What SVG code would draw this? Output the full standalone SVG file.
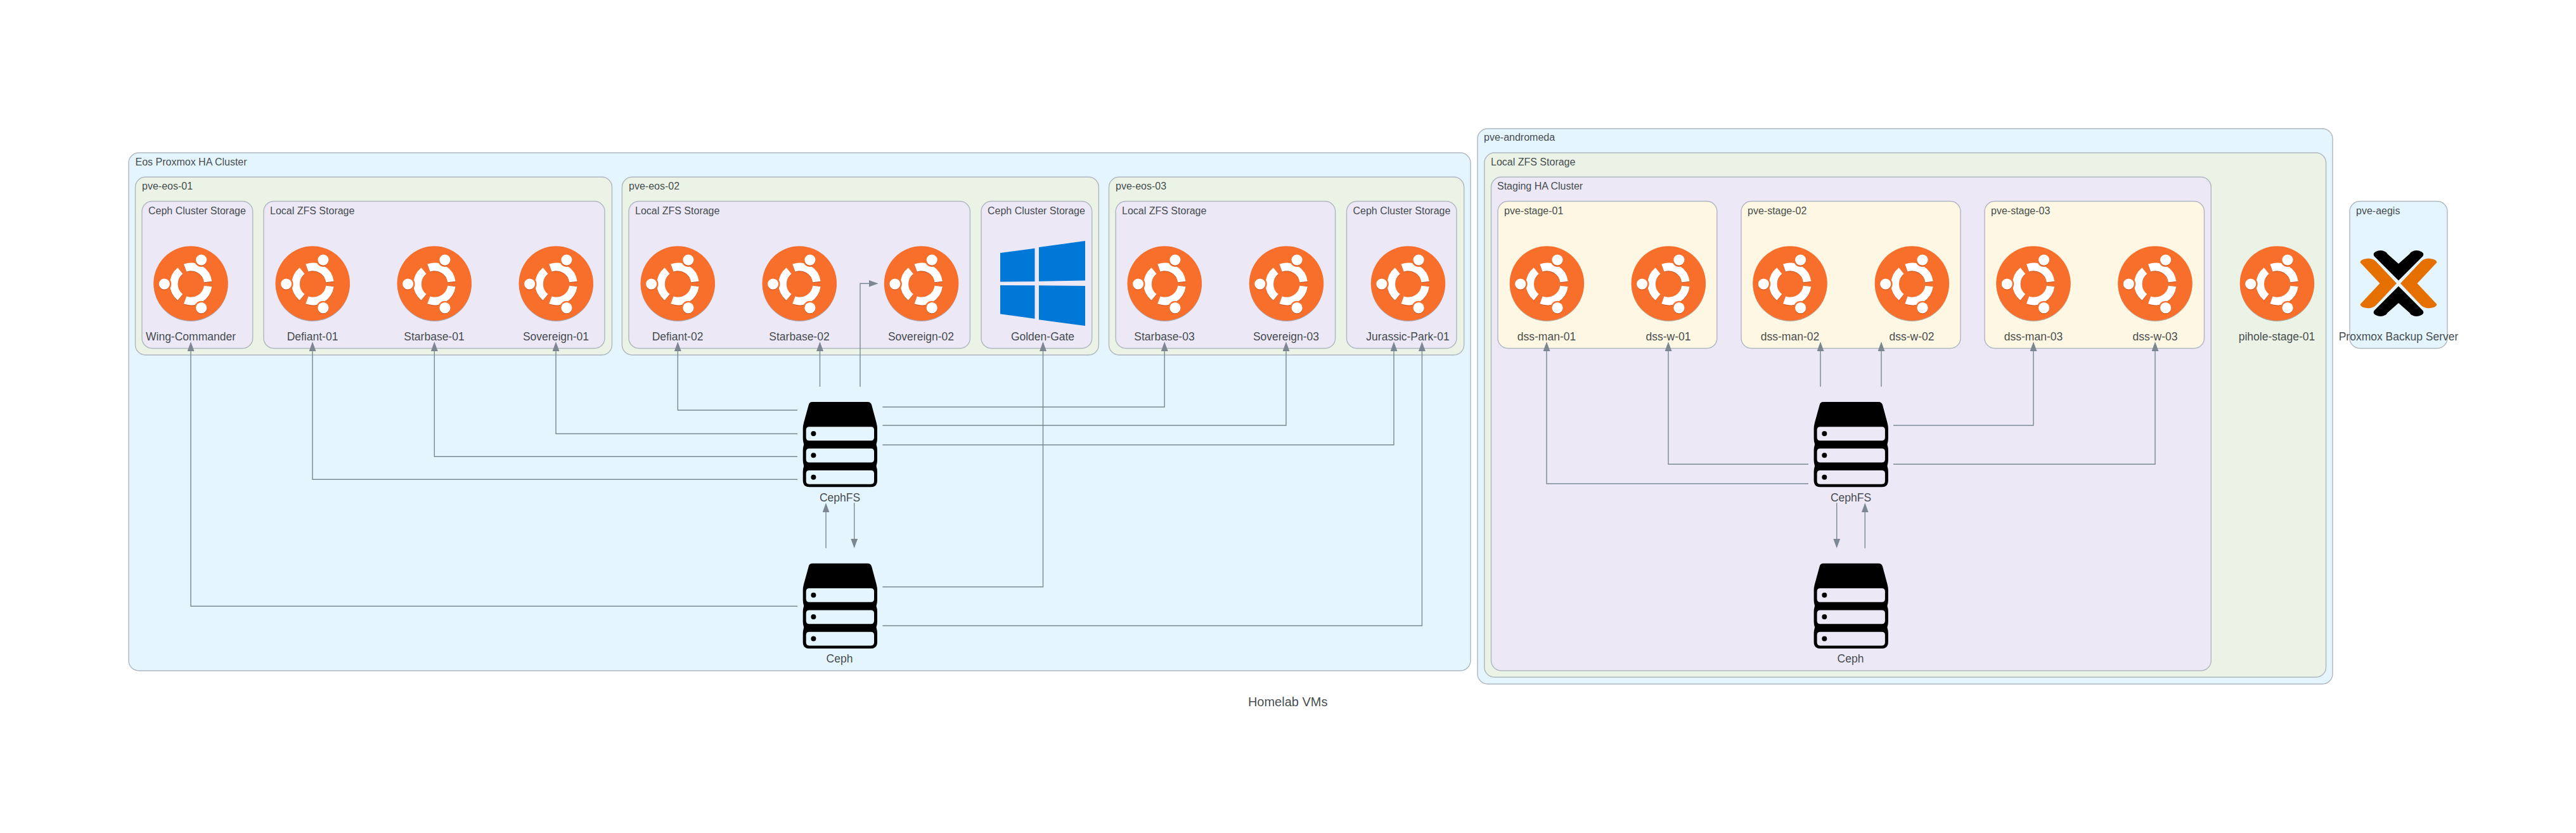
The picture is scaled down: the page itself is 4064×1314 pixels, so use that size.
<svg xmlns="http://www.w3.org/2000/svg" xmlns:xlink="http://www.w3.org/1999/xlink" width="4064" height="1314" viewBox="0 0 4064 1314">
<style>
text{font-family:"Liberation Sans",Arial,Helvetica,sans-serif;fill:#2D3436;fill-opacity:.9}
.cl{font-size:16px}
.nl{font-size:17.5px;text-anchor:middle}
.title{font-size:20px;text-anchor:middle}
.box{stroke:#AEB6BE;stroke-width:1.4}
.b{fill:#E5F5FD}.g{fill:#EBF3E7}.p{fill:#ECE8F6}.y{fill:#FDF7E3}
.edge{fill:none;stroke:#7B8894;stroke-width:1.4}
.edge.arrow{marker-end:url(#arrow)}
</style>
<defs>
<marker id="arrow" markerUnits="userSpaceOnUse" markerWidth="15" markerHeight="11" viewBox="0 0 15 11" refX="13" refY="5.5" orient="auto"><path d="M0 0L15 5.5L0 11Z" fill="#7B8894"/></marker>
<g id="ubuntu">
<circle cx="0" cy="1.5" r="58.5" fill="#000" fill-opacity=".28"/>
<circle r="58.7" fill="#F76F2B"/>
<g transform="translate(0.3,1)">
<g fill="none" stroke="#C9521C" stroke-width="12.500" transform="translate(0,1)"><path d="M26.77 -3.52A27 27 0 0 0 -9.23 -25.37M-16.99 -20.98A27 27 0 0 0 -16.99 20.98M-9.23 25.37A27 27 0 0 0 26.77 3.52"/></g>
<path fill="none" stroke="#FFF" stroke-width="12.500" d="M26.77 -3.52A27 27 0 0 0 -9.23 -25.37M-16.99 -20.98A27 27 0 0 0 -16.99 20.98M-9.23 25.37A27 27 0 0 0 26.77 3.52"/>
<g fill="#F76F2B"><circle cx="-42" r="11"/><circle cx="16.3" cy="-38" r="11"/><circle cx="16.3" cy="37.7" r="11"/></g>
<g fill="#C9521C"><circle cx="-42" cy="1" r="8.6"/><circle cx="16.3" cy="-37" r="8.6"/><circle cx="16.3" cy="38.7" r="8.6"/></g>
<g fill="#FFF"><circle cx="-42" r="8.6"/><circle cx="16.3" cy="-38" r="8.6"/><circle cx="16.3" cy="37.7" r="8.6"/></g>
</g>
</g>
<g id="server">
<path fill="#000" fill-rule="evenodd" d="M15 0H102Q107 0 108.5 5L116 33Q117.3 38 117.3 42V58Q117.3 62 115.8 67Q117.3 72 117.3 76V92Q117.3 96 115.8 101Q117.3 106 117.3 110V124Q117.3 134.3 107 134.3H10.3Q0 134.3 0 124V110Q0 106 1.5 101Q0 96 0 92V76Q0 72 1.5 67Q0 62 0 58V42Q0 38 1.3 33L9 5Q10 0 15 0ZM10 39.3Q5 39.3 5 44.3V56Q5 61 10 61H107.3Q112.3 61 112.3 56V44.3Q112.3 39.3 107.3 39.3ZM10 73.6Q5 73.6 5 78.6V90.4Q5 95.4 10 95.4H107.3Q112.3 95.4 112.3 90.4V78.6Q112.3 73.6 107.3 73.6ZM10 107.9Q5 107.9 5 112.9V124.7Q5 129.7 10 129.7H107.3Q112.3 129.7 112.3 124.7V112.9Q112.3 107.9 107.3 107.9Z"/>
<circle cx="16.7" cy="50" r="4"/><circle cx="16.7" cy="84.3" r="4"/><circle cx="16.7" cy="118.7" r="4"/>
</g>
</defs>
<rect width="4064" height="1314" fill="#FFF"/>

<g id="clusters">
<g id="cluster-eos">
<rect class="box b" x="203" y="241" width="2117" height="817" rx="16"/>
<text class="cl" x="213.5" y="260.7">Eos Proxmox HA Cluster</text>
<rect class="box g" x="213.5" y="279.3" width="752" height="280.7" rx="16"/>
<text class="cl" x="224" y="299.3">pve-eos-01</text>
<rect class="box p" x="224" y="317.5" width="174.7" height="232" rx="16"/>
<text class="cl" x="234" y="338.3">Ceph Cluster Storage</text>
<rect class="box p" x="416" y="317.5" width="538" height="232" rx="16"/>
<text class="cl" x="426" y="338.3">Local ZFS Storage</text>
<rect class="box g" x="981.4" y="279.3" width="752" height="280.7" rx="16"/>
<text class="cl" x="992" y="299.3">pve-eos-02</text>
<rect class="box p" x="992" y="317.5" width="538.4" height="232" rx="16"/>
<text class="cl" x="1002" y="338.3">Local ZFS Storage</text>
<rect class="box p" x="1548" y="317.5" width="174.7" height="232" rx="16"/>
<text class="cl" x="1558" y="338.3">Ceph Cluster Storage</text>
<rect class="box g" x="1749.5" y="279.3" width="560.2" height="280.7" rx="16"/>
<text class="cl" x="1760" y="299.3">pve-eos-03</text>
<rect class="box p" x="1760.2" y="317.5" width="346.4" height="232" rx="16"/>
<text class="cl" x="1770" y="338.3">Local ZFS Storage</text>
<rect class="box p" x="2124.5" y="317.5" width="173.5" height="232" rx="16"/>
<text class="cl" x="2134.5" y="338.3">Ceph Cluster Storage</text>
</g>
<g id="cluster-andromeda">
<rect class="box b" x="2331" y="203" width="1349" height="876" rx="16"/>
<text class="cl" x="2341" y="222">pve-andromeda</text>
<rect class="box g" x="2341.8" y="241" width="1327.8" height="827.3" rx="16"/>
<text class="cl" x="2352" y="260.7">Local ZFS Storage</text>
<rect class="box p" x="2352.5" y="279.3" width="1135.8" height="778.7" rx="16"/>
<text class="cl" x="2362" y="299.3">Staging HA Cluster</text>
<rect class="box y" x="2363" y="317.5" width="345.8" height="232" rx="16"/>
<text class="cl" x="2373" y="338.3">pve-stage-01</text>
<rect class="box y" x="2747" y="317.5" width="346" height="232" rx="16"/>
<text class="cl" x="2757" y="338.3">pve-stage-02</text>
<rect class="box y" x="3131" y="317.5" width="346.5" height="232" rx="16"/>
<text class="cl" x="3141" y="338.3">pve-stage-03</text>
</g>
<g id="cluster-aegis">
<rect class="box b" x="3707" y="317.5" width="154" height="232" rx="16"/>
<text class="cl" x="3717" y="338.3">pve-aegis</text>
</g>
</g>

<g id="connectors">
<path class="edge arrow" d="M1258 956.3H301V541"/>
<path class="edge arrow" d="M1258 756.3H493V541"/>
<path class="edge arrow" d="M1258 720.3H685.3V541"/>
<path class="edge arrow" d="M1258 684.3H877V541"/>
<path class="edge arrow" d="M1258 647H1069.3V541"/>
<path class="edge arrow" d="M1293.5 610V541"/>
<path class="edge arrow" d="M1357 610V447.3H1383.5"/>
<path class="edge arrow" d="M1392.3 925.7H1645.5V541"/>
<path class="edge arrow" d="M1392.3 642H1837.2V541"/>
<path class="edge arrow" d="M1392.3 671H2029V541"/>
<path class="edge arrow" d="M1392.3 701.7H2199V541"/>
<path class="edge arrow" d="M1392.3 987H2243.4V541"/>
<path class="edge arrow" d="M1303 864.7V795.3"/>
<path class="edge arrow" d="M1347.7 793.3V862.7"/>
<path class="edge arrow" d="M2853 763H2440V541"/>
<path class="edge arrow" d="M2853 732.3H2632V541"/>
<path class="edge arrow" d="M2872 610V541"/>
<path class="edge arrow" d="M2968 610V541"/>
<path class="edge arrow" d="M2987 671H3208V541"/>
<path class="edge arrow" d="M2987 732.3H3400V541"/>
<path class="edge arrow" d="M2897.7 793.3V862.7"/>
<path class="edge arrow" d="M2942.3 864.7V795.3"/>
</g>

<g id="node-wing-commander"><use href="#ubuntu" transform="translate(301,447)"/><text class="nl" x="301" y="536.5">Wing-Commander</text></g>
<g id="node-defiant-01"><use href="#ubuntu" transform="translate(493.3,447)"/><text class="nl" x="493" y="536.5">Defiant-01</text></g>
<g id="node-starbase-01"><use href="#ubuntu" transform="translate(685.3,447)"/><text class="nl" x="685" y="536.5">Starbase-01</text></g>
<g id="node-sovereign-01"><use href="#ubuntu" transform="translate(877.3,447)"/><text class="nl" x="877" y="536.5">Sovereign-01</text></g>
<g id="node-defiant-02"><use href="#ubuntu" transform="translate(1069.3,447)"/><text class="nl" x="1069" y="536.5">Defiant-02</text></g>
<g id="node-starbase-02"><use href="#ubuntu" transform="translate(1261.3,447)"/><text class="nl" x="1261" y="536.5">Starbase-02</text></g>
<g id="node-sovereign-02"><use href="#ubuntu" transform="translate(1453.6,447)"/><text class="nl" x="1453" y="536.5">Sovereign-02</text></g>
<g id="node-golden-gate">
<g fill="#0078D7"><path d="M1578 399L1632.5 391.7V444L1578 444.5Z"/><path d="M1639 390L1712 380V442.5L1639 443.7Z"/><path d="M1578 450L1632.5 450.3V502.7L1578 495.3Z"/><path d="M1639 450.3L1712 451V514L1639 504.3Z"/></g>
<text class="nl" x="1645" y="536.5">Golden-Gate</text></g>
<g id="node-starbase-03"><use href="#ubuntu" transform="translate(1837.3,447)"/><text class="nl" x="1837" y="536.5">Starbase-03</text></g>
<g id="node-sovereign-03"><use href="#ubuntu" transform="translate(2029.5,447)"/><text class="nl" x="2029" y="536.5">Sovereign-03</text></g>
<g id="node-jurassic-park-01"><use href="#ubuntu" transform="translate(2221.5,447)"/><text class="nl" x="2221" y="536.5">Jurassic-Park-01</text></g>
<g id="node-cephfs-eos"><use href="#server" transform="translate(1266.7,634)"/><text class="nl" x="1325" y="791">CephFS</text></g>
<g id="node-ceph-eos"><use href="#server" transform="translate(1266.7,888.8)"/><text class="nl" x="1324.5" y="1045">Ceph</text></g>
<g id="node-dss-man-01"><use href="#ubuntu" transform="translate(2440.4,447)"/><text class="nl" x="2440" y="536.5">dss-man-01</text></g>
<g id="node-dss-w-01"><use href="#ubuntu" transform="translate(2632.3,447)"/><text class="nl" x="2632" y="536.5">dss-w-01</text></g>
<g id="node-dss-man-02"><use href="#ubuntu" transform="translate(2824,447)"/><text class="nl" x="2824" y="536.5">dss-man-02</text></g>
<g id="node-dss-w-02"><use href="#ubuntu" transform="translate(3016.4,447)"/><text class="nl" x="3016" y="536.5">dss-w-02</text></g>
<g id="node-dss-man-03"><use href="#ubuntu" transform="translate(3208,447)"/><text class="nl" x="3208" y="536.5">dss-man-03</text></g>
<g id="node-dss-w-03"><use href="#ubuntu" transform="translate(3400,447)"/><text class="nl" x="3400" y="536.5">dss-w-03</text></g>
<g id="node-cephfs-stage"><use href="#server" transform="translate(2861.6,634)"/><text class="nl" x="2920" y="791">CephFS</text></g>
<g id="node-ceph-stage"><use href="#server" transform="translate(2861.6,888.8)"/><text class="nl" x="2919.5" y="1045">Ceph</text></g>
<g id="node-pihole-stage-01"><use href="#ubuntu" transform="translate(3592.4,447)"/><text class="nl" x="3592" y="536.5">pihole-stage-01</text></g>
<g id="node-proxmox-backup-server">
<g transform="translate(3784,447)">
<g fill="#000"><path d="M-38.5 -43Q-41 -47.5 -36 -50Q-28 -54 -21 -50Q-19 -49 -17 -46L0 -31L17 -46Q19 -49 21 -50Q28 -54 36 -50Q41 -47.5 38.5 -43L0 -4.5Z"/><path d="M-38.5 43Q-41 47.5 -36 50Q-28 54 -21 50Q-19 49 -17 46L0 31L17 46Q19 49 21 50Q28 54 36 50Q41 47.5 38.5 43L0 4.5Z"/></g>
<g fill="#E57000"><path d="M-60.5 -33Q-60 -38 -50 -39Q-42 -40 -36 -35L-3 0L-36 35Q-42 40 -50 39Q-60 38 -60.5 33L-29.5 0Z"/><path d="M60.5 -33Q60 -38 50 -39Q42 -40 36 -35L3 0L36 35Q42 40 50 39Q60 38 60.5 33L29.5 0Z"/></g>
</g>
<text class="nl" x="3784" y="536.5">Proxmox Backup Server</text></g>

<text class="title" x="2031.7" y="1114">Homelab VMs</text>
</svg>
